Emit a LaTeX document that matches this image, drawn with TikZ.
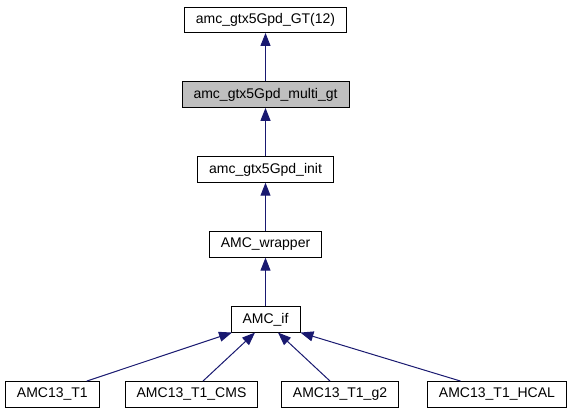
\documentclass[tikz,border=0pt]{standalone}
\usepackage{fontspec}
\setmainfont{Liberation Sans}
\usetikzlibrary{positioning}
\usetikzlibrary{arrows.meta}
\definecolor{midnightblue}{RGB}{25,25,112}

\begin{document}
\begin{tikzpicture}[x=1pt, y=1pt, node distance=48.5pt]

        \tikzstyle{cls} = [rectangle, draw=black, line width=0.9pt, fill=white,
            minimum height=25.5pt, inner xsep=11.5pt, inner ysep=0pt,
            font=\fontsize{14}{16}\selectfont]
        \tikzstyle{inherit} = [draw=midnightblue, line width=1pt,
            -{Triangle[length=13pt,width=10pt]}]

        \useasboundingbox (0,0) rectangle (570,-411);

        \node[cls]                                      (gt)      at (265.5,-19.75) {amc\_gtx5Gpd\_GT(12)};
        \node[cls, fill=black!25, below=of gt]          (multigt) {amc\_gtx5Gpd\_multi\_gt};
        \node[cls, below=of multigt]                    (init)    {amc\_gtx5Gpd\_init};
        \node[cls, below=of init]                       (wrapper) {AMC\_wrapper};
        \node[cls, below=of wrapper]                    (amcif)   {AMC\_if};
        \node[cls, below=of amcif, xshift=-74pt]        (cms)     {AMC13\_T1\_CMS};
        \node[cls, below=of amcif, xshift=74.5pt]       (gtwo)    {AMC13\_T1\_g2};
        \node[cls, left=25pt of cms]                    (tone)    {AMC13\_T1};
        \node[cls, right=28pt of gtwo]                  (hcal)    {AMC13\_T1\_HCAL};

        \draw[inherit] (multigt) -- (gt);
        \draw[inherit] (init)    -- (multigt);
        \draw[inherit] (wrapper) -- (init);
        \draw[inherit] (amcif)   -- (wrapper);
        \draw[inherit] ([xshift=34.5pt]tone.north) -- ([xshift=-33.5pt]amcif.south);
        \draw[inherit] ([xshift=11.5pt]cms.north)  -- ([xshift=-10.5pt]amcif.south);
        \draw[inherit] ([xshift=-10pt]gtwo.north)  -- ([xshift=12.5pt]amcif.south);
        \draw[inherit] ([xshift=-36.5pt]hcal.north) -- (amcif.south east);

\end{tikzpicture}
\end{document}
